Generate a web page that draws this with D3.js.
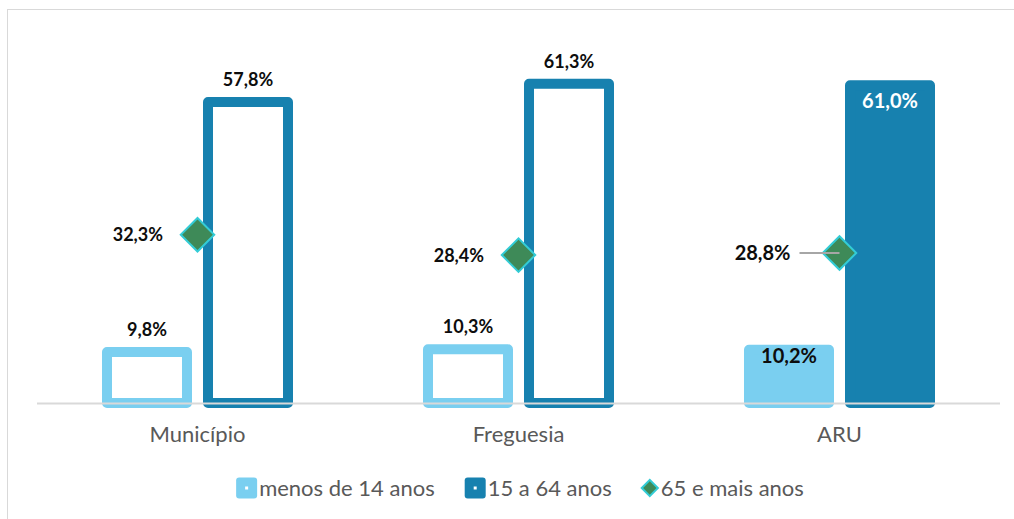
<!DOCTYPE html>
<html>
<head>
<meta charset="utf-8">
<script src="https://cdn.jsdelivr.net/npm/d3@7"></script>
<style>
  body { margin: 0; background: #fff; }
  text { font-family: "Lato", "Open Sans", sans-serif; }
</style>
</head>
<body>
<div id="chart"></div>
<script>
// data
const categories = ["Município", "Freguesia", "ARU"];
const barSeries = ["menos de 14 anos", "15 a 64 anos"];
const menos14 = [9.8, 10.3, 10.2];
const de15a64 = [57.8, 61.3, 61.0];
const mais65 = [32.3, 28.4, 28.8];
const legendLabels = ["menos de 14 anos", "15 a 64 anos", "65 e mais anos"];

const W = 1014, H = 519;
const colors = { "menos de 14 anos": "#7ACFF0", "15 a 64 anos": "#1781AF" };
const fmt = v => d3.format(".1f")(v).replace(".", ",") + "%";

const svg = d3.select("#chart").append("svg")
    .attr("width", W)
    .attr("height", H);

// chart frame
svg.append("rect")
    .attr("x", 7.5).attr("y", 9.5)
    .attr("width", W + 10).attr("height", H + 10)
    .attr("fill", "#fff")
    .attr("stroke", "#D9D9D9");

// scales
const x0 = d3.scaleBand().domain(categories).range([37, 1000]);
const x1 = d3.scaleBand().domain(barSeries).range([0, x0.bandwidth()])
    .paddingInner(0.208).paddingOuter(0.693);
const y = d3.scaleLinear().domain([0, 70]).range([403, 38.4]);

const barData = [];
categories.forEach((c, i) => {
    barData.push({ cat: c, s: barSeries[0], v: menos14[i], solid: c === "ARU" });
    barData.push({ cat: c, s: barSeries[1], v: de15a64[i], solid: c === "ARU" });
});

// bars
svg.selectAll(".bar")
    .data(barData)
    .enter().append("rect")
    .attr("class", "bar")
    .attr("x", d => x0(d.cat) + x1(d.s))
    .attr("y", d => y(d.v))
    .attr("width", x1.bandwidth())
    .attr("height", d => y(0) - y(d.v))
    .attr("fill", d => d.solid ? colors[d.s] : "#fff")
    .attr("stroke", d => colors[d.s])
    .attr("stroke-width", 10)
    .attr("stroke-linejoin", "round");

// category axis line
svg.append("line")
    .attr("x1", x0.range()[0]).attr("x2", x0.range()[1])
    .attr("y1", y(0) + 0.5).attr("y2", y(0) + 0.5)
    .attr("stroke", "#D9D9D9")
    .attr("stroke-width", 2);

// category labels
svg.selectAll(".cat")
    .data(categories)
    .enter().append("text")
    .attr("class", "cat")
    .attr("x", d => x0(d) + x0.bandwidth() / 2)
    .attr("y", 442)
    .attr("text-anchor", "middle")
    .attr("font-size", 22)
    .attr("fill", "#595959")
    .text(d => d);

// bar value labels (outside end for outlined bars, inside end for ARU)
svg.selectAll(".barlabel")
    .data(barData)
    .enter().append("text")
    .attr("class", "barlabel")
    .attr("x", d => x0(d.cat) + x1(d.s) + x1.bandwidth() / 2)
    .attr("y", d => {
        if (!d.solid) return y(d.v) - 16;
        return d.s === barSeries[1] ? y(d.v) + 22.5 : y(d.v) + 13;
    })
    .attr("text-anchor", "middle")
    .attr("font-weight", "bold")
    .attr("font-size", d => d.solid ? 20 : 18)
    .attr("fill", d => (d.solid && d.s === barSeries[1]) ? "#fff" : "#0D0D0D")
    .text(d => fmt(d.v));

// 65 e mais anos markers
const pts = categories.map((c, i) => ({ cat: c, v: mais65[i] }));
const cx = d => x0(d.cat) + x0.bandwidth() / 2;
const diamond = d3.symbol(d3.symbolSquare, 560);

svg.selectAll(".pt")
    .data(pts)
    .enter().append("path")
    .attr("class", "pt")
    .attr("d", diamond)
    .attr("transform", d => `translate(${cx(d)},${y(d.v)}) rotate(45)`)
    .attr("fill", "#3E8A58")
    .attr("stroke", "#33CCD6")
    .attr("stroke-width", 2);

// leader line on ARU point
const aru = pts[2];
svg.append("line")
    .attr("x1", cx(aru) - 40).attr("x2", cx(aru))
    .attr("y1", y(aru.v)).attr("y2", y(aru.v))
    .attr("stroke", "#A6A6A6")
    .attr("stroke-width", 2);

svg.selectAll(".ptlabel")
    .data(pts)
    .enter().append("text")
    .attr("class", "ptlabel")
    .attr("x", d => cx(d) - (d.cat === "ARU" ? 49 : 34.5))
    .attr("y", d => y(d.v) + (d.cat === "ARU" ? 7 : 6.5))
    .attr("text-anchor", "end")
    .attr("font-weight", "bold")
    .attr("font-size", d => d.cat === "ARU" ? 20 : 18)
    .attr("fill", "#0D0D0D")
    .text(d => fmt(d.v));

// legend
const legend = svg.append("g");
const ly = 488;
let lx = 0;
legendLabels.forEach((label, i) => {
    const g = legend.append("g").attr("transform", `translate(${lx},0)`);
    if (i < 2) {
        const col = colors[label];
        g.append("rect")
            .attr("x", 0).attr("y", ly - 10.5)
            .attr("width", 21).attr("height", 21)
            .attr("rx", 3)
            .attr("fill", col);
        g.append("rect")
            .attr("x", 9).attr("y", ly - 1.5)
            .attr("width", 3).attr("height", 3)
            .attr("fill", "#fff");
    } else {
        g.append("path")
            .attr("d", d3.symbol(d3.symbolSquare, 130)())
            .attr("transform", `translate(8,${ly}) rotate(45)`)
            .attr("fill", "#3E8A58")
            .attr("stroke", "#33CCD6")
            .attr("stroke-width", 2);
    }
    const tx = i < 2 ? 23 : 19;
    const t = g.append("text")
        .attr("x", tx)
        .attr("y", ly + 8)
        .attr("font-size", 22)
        .attr("fill", "#595959")
        .text(label);
    lx += tx + t.node().getComputedTextLength() + 30;
});
const lw = lx - 30;
legend.attr("transform", `translate(${520 - lw / 2},0)`);
</script>
</body>
</html>
